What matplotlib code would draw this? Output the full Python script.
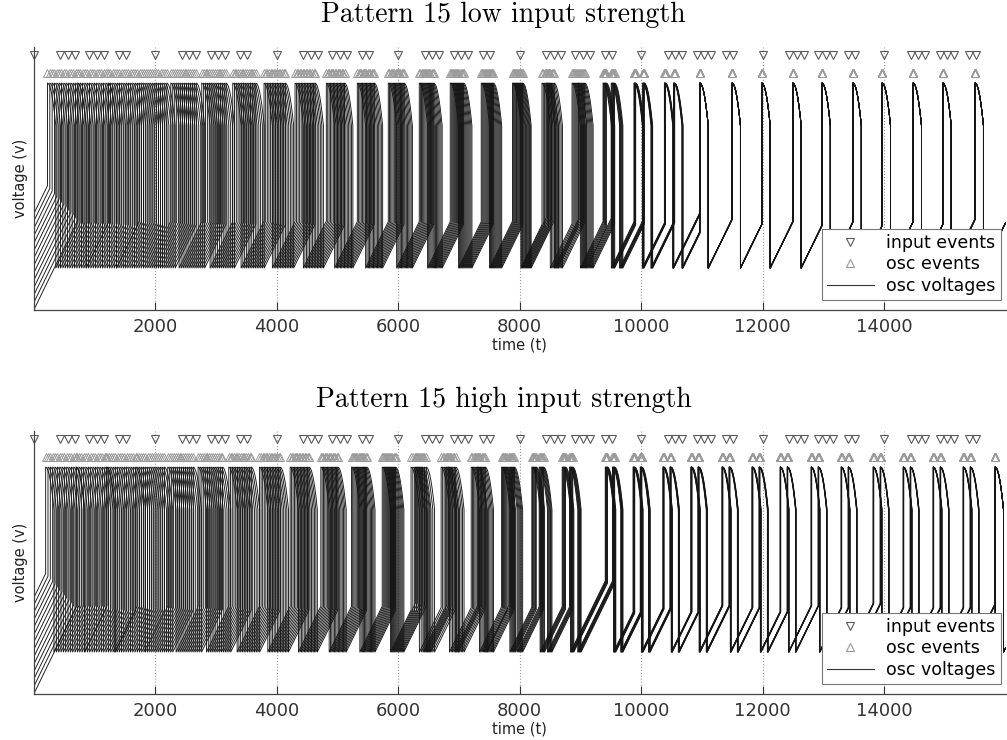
import numpy as np
import matplotlib.pyplot as plt
from matplotlib.lines import Line2D

# ---- data ----
t_end = 16000
# input pattern: one window every 2000 t, same 9 events in every window
input_windows = [0, 2000, 4000, 6000, 8000, 10000, 12000, 14000]
input_offsets = [0, 440, 560, 680, 920, 1040, 1160, 1400, 1520]

# low input strength: centre of each oscillator burst, spread of the burst,
# gap between the two sub-groups of oscillators (all in time units)
low_centres = [480, 980, 1470, 1970, 2470, 2970, 3470, 3970, 4470, 4970,
               5470, 5970, 6470, 6970, 7470, 7970, 8470, 8970, 9470, 9970,
               10470, 10970, 11500, 11990, 12500, 12980, 13490, 13970,
               14480, 14970, 15500]
low_spread = [500, 500, 480, 450, 420, 400, 380, 350, 330, 300,
              280, 260, 240, 220, 200, 170, 140, 110, 60, 30,
              20, 0, 0, 0, 0, 0, 0, 0, 0, 0, 0]
low_gap = [0, 0, 0, 0, 0, 0, 0, 0, 0, 0,
           0, 0, 0, 0, 0, 0, 60, 100, 130, 140,
           150, 0, 0, 0, 0, 0, 0, 0, 0, 0, 0]

# high input strength
high_centres = [450, 960, 1440, 1930, 2420, 2910, 3400, 3890, 4380, 4870,
                5360, 5850, 6340, 6830, 7320, 7810, 8300, 8790, 9489,
                9942, 10428, 10888, 11398, 11892, 12353, 12863, 13357,
                13884, 14378, 14871, 15365, 15830]
high_spread = [500, 500, 480, 450, 420, 400, 370, 340, 310, 280,
               250, 220, 190, 160, 130, 100, 80, 60, 40,
               30, 20, 20, 15, 15, 10, 10, 10, 10, 10, 10, 10, 0]
high_gap = [0, 0, 0, 0, 0, 0, 0, 0, 0, 0,
            0, 0, 60, 80, 100, 110, 115, 115, 115,
            115, 115, 115, 115, 115, 115, 115, 115, 115, 115, 115, 115, 0]

n_osc = 14
titles = ['Pattern 15 low input strength', 'Pattern 15 high input strength']

# voltage waveform shape (reset = 0, peak = 1)
ramp_slope = 0.24 / 357
start_top = 0.29
start_bottom = -0.23
decay_len = 137
decay_end = 0.77
y_osc = 1.054
y_input = 1.15


def spike_times(centres, spread, gap):
    u = np.arange(n_osc) / (n_osc - 1) - 0.5
    side = np.where(np.arange(n_osc) % 2 == 0, -0.5, 0.5)
    out = []
    for i in range(n_osc):
        out.append([c + side[i] * g + w * u[i] for c, w, g in zip(centres, spread, gap)])
    return out


def trace(spikes, v0):
    ts = [0, spikes[0], spikes[0]]
    vs = [v0, v0 + ramp_slope * spikes[0], 1.0]
    tau = np.linspace(0, decay_len, 8)
    for k, s in enumerate(spikes):
        nxt = spikes[k + 1] if k + 1 < len(spikes) else t_end
        d = min(decay_len, nxt - s)
        tt = s + tau[tau <= d]
        ts += list(tt)
        vs += list(1 - (1 - decay_end) * ((tt - s) / decay_len) ** 2)
        ts += [s + d, s + d]
        vs += [0.0, 0.0]
        ts.append(nxt)
        vs.append(ramp_slope * (nxt - s - d))
        if k + 1 < len(spikes):
            ts.append(nxt)
            vs.append(1.0)
    return ts, vs


fig = plt.figure(figsize=(10.07, 7.40), dpi=100)
W, H = 1007, 740
rects = [[33.5 / W, 1 - 310 / H, 972 / W, 263 / H],
         [33.5 / W, 1 - 694 / H, 972 / W, 263 / H]]
runs = [(low_centres, low_spread, low_gap), (high_centres, high_spread, high_gap)]
title_y = [15, 400]

input_times = [w + o for w in input_windows for o in input_offsets]

for p in range(2):
    ax = fig.add_axes(rects[p])
    sp = spike_times(*runs[p])
    order = np.argsort([s[0] for s in sp])
    v_start = np.linspace(start_top, start_bottom, n_osc)
    for rank, i in enumerate(order):
        ts, vs = trace(sp[i], v_start[rank])
        ax.plot(ts, vs, color='#151515', lw=0.65)
    all_sp = [x for s in sp for x in s if x <= t_end]
    ax.plot(all_sp, np.full(len(all_sp), y_osc), ls='none', marker='^',
            mfc='none', mec='#9a9a9a', ms=5.5, mew=0.7)
    ax.plot(input_times, np.full(len(input_times), y_input), ls='none', marker='v',
            mfc='none', mec='#5a5a5a', ms=6, mew=0.8, clip_on=False)

    ax.set_xlim(0, t_end)
    ax.set_ylim(-0.227, 1.195)
    ax.set_xticks([2000, 4000, 6000, 8000, 10000, 12000, 14000])
    ax.set_yticks([])
    ax.tick_params(axis='x', direction='in', length=6, labelsize=13, pad=6,
                   colors='#333333')
    ax.grid(axis='x', ls=':', color='#9a9a9a', lw=0.8)
    for side in ['top', 'right']:
        ax.spines[side].set_visible(False)
    for side in ['left', 'bottom']:
        ax.spines[side].set_color('#444444')
        ax.spines[side].set_linewidth(0.9)
    ax.set_xlabel('time (t)', fontsize=10.5, labelpad=1, color='#222222')
    ax.set_ylabel('voltage (v)', fontsize=10.5, labelpad=4, color='#222222')

    handles = [Line2D([], [], ls='none', marker='v', mfc='none', mec='#5a5a5a', ms=6, mew=0.8),
               Line2D([], [], ls='none', marker='^', mfc='none', mec='#9a9a9a', ms=6, mew=0.8),
               Line2D([], [], color='#333333', lw=0.8)]
    leg = ax.legend(handles, ['input events', 'osc events', 'osc voltages'],
                    loc='lower right', bbox_to_anchor=(0.995, 0.038), borderaxespad=0,
                    fontsize=12.5, fancybox=False, framealpha=1, edgecolor='#777777',
                    labelspacing=0.2, handlelength=2.7, borderpad=0.3, handletextpad=0.7)
    leg.get_frame().set_linewidth(0.8)

    fig.text(0.5, 1 - title_y[p] / H, titles[p], ha='center', va='center',
             fontsize=20, family='cmr10')

fig.savefig('out.png', dpi=100)
